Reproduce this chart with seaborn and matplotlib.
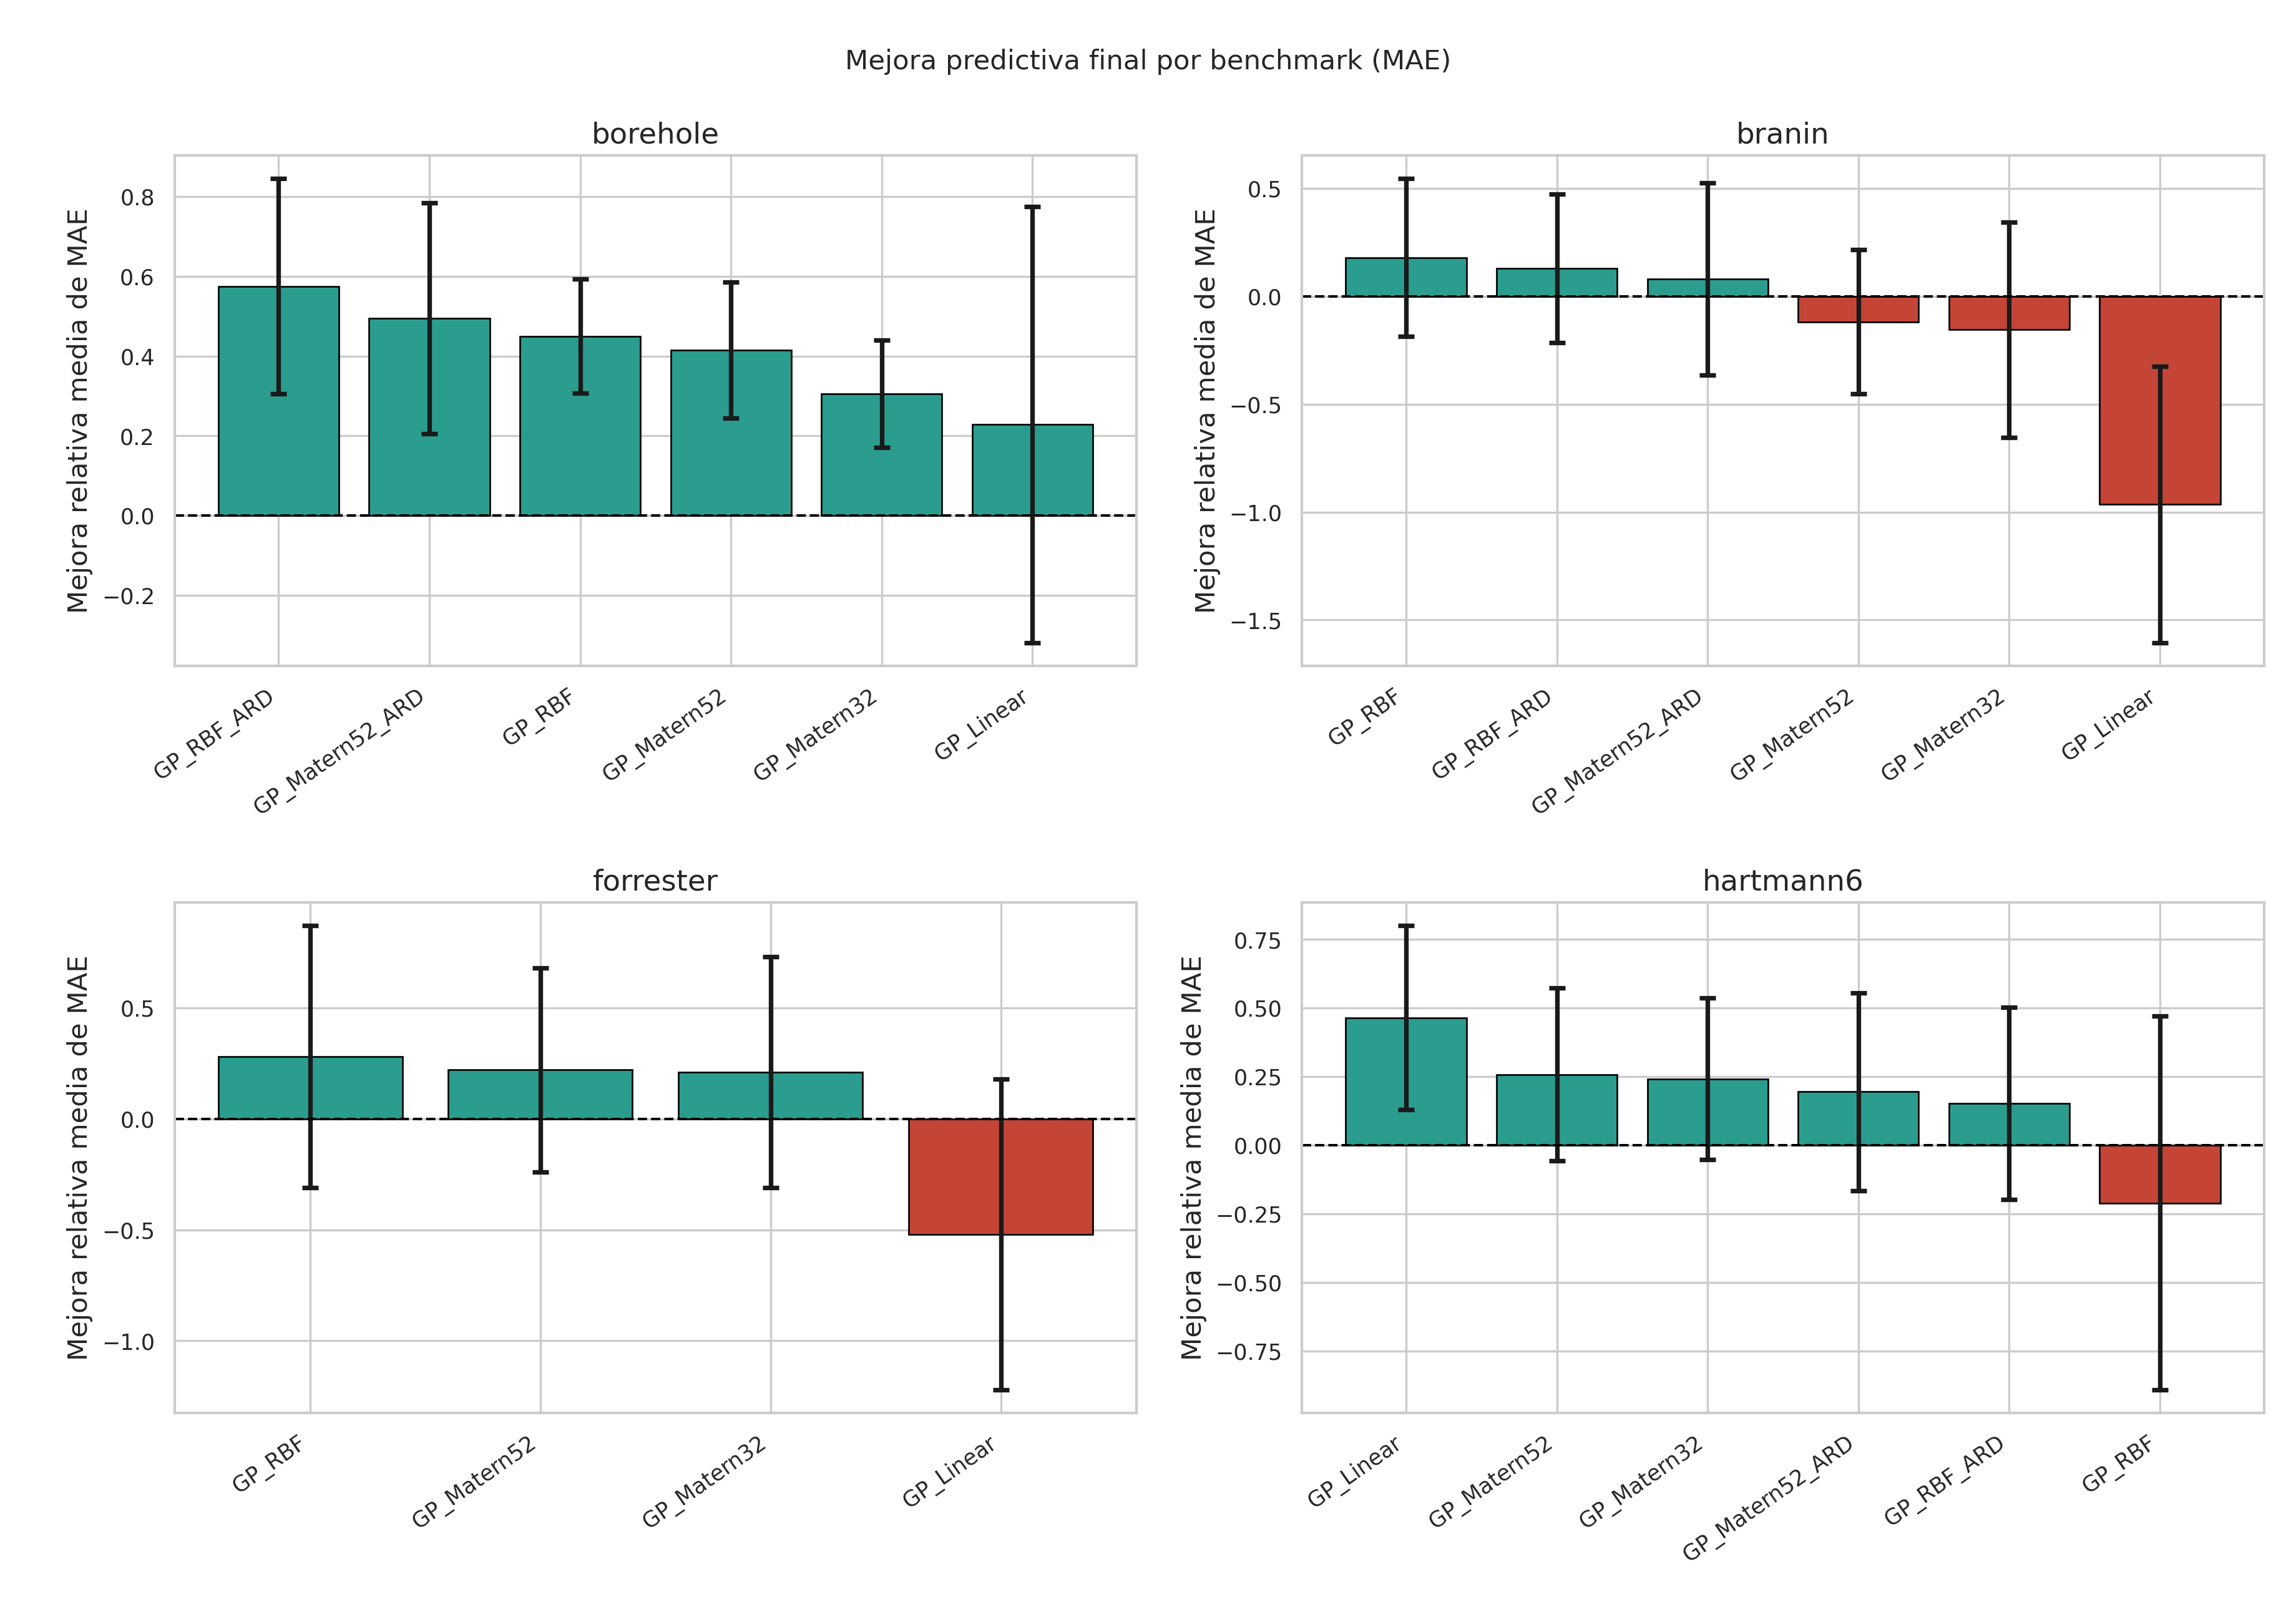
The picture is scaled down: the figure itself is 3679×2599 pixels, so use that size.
import numpy as np
import pandas as pd
import seaborn as sns
import matplotlib.pyplot as plt

benchmarks = ["borehole", "branin", "forrester", "hartmann6"]

borehole_models = ["GP_RBF_ARD", "GP_Matern52_ARD", "GP_RBF", "GP_Matern52", "GP_Matern32", "GP_Linear"]
borehole_mean = [0.575, 0.495, 0.45, 0.415, 0.305, 0.228]
borehole_err = [0.27, 0.29, 0.143, 0.17, 0.135, 0.547]

branin_models = ["GP_RBF", "GP_RBF_ARD", "GP_Matern52_ARD", "GP_Matern52", "GP_Matern32", "GP_Linear"]
branin_mean = [0.18, 0.13, 0.08, -0.118, -0.155, -0.965]
branin_err = [0.365, 0.345, 0.445, 0.335, 0.5, 0.64]

forrester_models = ["GP_RBF", "GP_Matern52", "GP_Matern32", "GP_Linear"]
forrester_mean = [0.28, 0.22, 0.21, -0.52]
forrester_err = [0.59, 0.46, 0.52, 0.70]

hartmann6_models = ["GP_Linear", "GP_Matern52", "GP_Matern32", "GP_Matern52_ARD", "GP_RBF_ARD", "GP_RBF"]
hartmann6_mean = [0.465, 0.258, 0.242, 0.195, 0.152, -0.21]
hartmann6_err = [0.335, 0.315, 0.295, 0.36, 0.35, 0.68]

data = {
    "borehole": (borehole_models, borehole_mean, borehole_err),
    "branin": (branin_models, branin_mean, branin_err),
    "forrester": (forrester_models, forrester_mean, forrester_err),
    "hartmann6": (hartmann6_models, hartmann6_mean, hartmann6_err),
}

sns.set_theme(style="whitegrid")
fig, axes = plt.subplots(2, 2, figsize=(15.33, 10.83))

for ax, name in zip(axes.flat, benchmarks):
    models, mean, err = data[name]
    df = pd.DataFrame({"model": models, "mean": mean, "err": err})
    df["sign"] = np.where(df["mean"] >= 0, "pos", "neg")
    sns.barplot(data=df, x="model", y="mean", hue="sign",
                palette={"pos": "#2a9d8f", "neg": "#c44536"}, saturation=1,
                edgecolor="black", linewidth=0.8, width=0.8,
                legend=False, ax=ax)
    ax.errorbar(np.arange(len(models)), df["mean"], yerr=df["err"],
                fmt="none", ecolor="#1a1a1a", elinewidth=2.2, capsize=4, capthick=2.2)
    ax.axhline(0, color="black", linestyle="--", linewidth=1.2)
    ax.set_title(name, fontsize=14)
    ax.set_xlabel("")
    ax.set_ylabel("Mejora relativa media de MAE", fontsize=13)
    ax.tick_params(axis="both", labelsize=10.5)
    ax.grid(True, axis="both")
    plt.setp(ax.get_xticklabels(), rotation=35, ha="right")

fig.suptitle("Mejora predictiva final por benchmark (MAE)", fontsize=13, y=0.97)
fig.subplots_adjust(left=0.076, right=0.986, top=0.904, bottom=0.129, wspace=0.172, hspace=0.464)
fig.savefig("out.png", dpi=240)
